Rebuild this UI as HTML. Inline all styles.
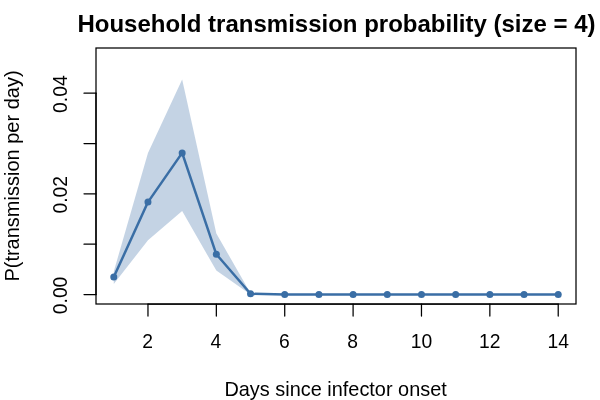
<!DOCTYPE html>
<html><head><meta charset="utf-8"><title>Household transmission probability</title>
<style>
html,body{margin:0;padding:0;background:#fff;}
svg{display:block;font-family:"Liberation Sans",Arial,Helvetica,sans-serif;}
</style></head>
<body>
<svg width="600" height="400" viewBox="0 0 600 400">
<rect width="600" height="400" fill="#fff"/>
<polygon points="113.78,271.50 147.97,153.00 182.16,79.50 216.34,233.50 250.53,293.20 284.72,294.30 318.91,294.30 353.10,294.30 387.28,294.30 421.47,294.30 455.66,294.30 489.85,294.30 524.04,294.30 558.22,294.30 558.22,294.60 524.04,294.60 489.85,294.60 455.66,294.60 421.47,294.60 387.28,294.60 353.10,294.60 318.91,294.60 284.72,294.60 250.53,294.50 216.34,270.60 182.16,211.10 147.97,240.30 113.78,284.00" fill="#3A6EA5" fill-opacity="0.3"/>
<polyline points="113.78,277.10 147.97,202.10 182.16,152.90 216.34,254.30 250.53,293.80 284.72,294.50 318.91,294.50 353.10,294.50 387.28,294.50 421.47,294.50 455.66,294.50 489.85,294.50 524.04,294.50 558.22,294.50" fill="none" stroke="#3A6EA5" stroke-width="2.5" stroke-linejoin="round" stroke-linecap="round"/>
<g fill="#3A6EA5"><circle cx="113.78" cy="277.10" r="3.5"/><circle cx="147.97" cy="202.10" r="3.5"/><circle cx="182.16" cy="152.90" r="3.5"/><circle cx="216.34" cy="254.30" r="3.5"/><circle cx="250.53" cy="293.80" r="3.5"/><circle cx="284.72" cy="294.50" r="3.5"/><circle cx="318.91" cy="294.50" r="3.5"/><circle cx="353.10" cy="294.50" r="3.5"/><circle cx="387.28" cy="294.50" r="3.5"/><circle cx="421.47" cy="294.50" r="3.5"/><circle cx="455.66" cy="294.50" r="3.5"/><circle cx="489.85" cy="294.50" r="3.5"/><circle cx="524.04" cy="294.50" r="3.5"/><circle cx="558.22" cy="294.50" r="3.5"/></g>
<g stroke="#000" stroke-width="1.25" fill="none" stroke-linecap="round">
<rect x="96" y="48" width="480" height="256"/>
<line x1="147.97" y1="304" x2="558.22" y2="304"/>
<line x1="147.97" y1="304" x2="147.97" y2="316"/><line x1="216.34" y1="304" x2="216.34" y2="316"/><line x1="284.72" y1="304" x2="284.72" y2="316"/><line x1="353.10" y1="304" x2="353.10" y2="316"/><line x1="421.47" y1="304" x2="421.47" y2="316"/><line x1="489.85" y1="304" x2="489.85" y2="316"/><line x1="558.22" y1="304" x2="558.22" y2="316"/>
<line x1="96" y1="294.52" x2="96" y2="93.20"/>
<line x1="96" y1="294.52" x2="84" y2="294.52"/><line x1="96" y1="244.19" x2="84" y2="244.19"/><line x1="96" y1="193.86" x2="84" y2="193.86"/><line x1="96" y1="143.53" x2="84" y2="143.53"/><line x1="96" y1="93.20" x2="84" y2="93.20"/>
</g>
<g font-size="20" fill="#000">
<text transform="translate(147.57,347.9) scale(0.965,1.03)" text-anchor="middle">2</text><text transform="translate(215.94,347.9) scale(0.965,1.03)" text-anchor="middle">4</text><text transform="translate(284.32,347.9) scale(0.965,1.03)" text-anchor="middle">6</text><text transform="translate(352.70,347.9) scale(0.965,1.03)" text-anchor="middle">8</text><text transform="translate(421.47,347.9) scale(0.965,1.03)" text-anchor="middle">10</text><text transform="translate(489.85,347.9) scale(0.965,1.03)" text-anchor="middle">12</text><text transform="translate(558.22,347.9) scale(0.965,1.03)" text-anchor="middle">14</text>
<text transform="translate(66.8,295.42) rotate(-90) scale(0.965,1.03)" text-anchor="middle">0.00</text><text transform="translate(66.8,194.76) rotate(-90) scale(0.965,1.03)" text-anchor="middle">0.02</text><text transform="translate(66.8,94.10) rotate(-90) scale(0.965,1.03)" text-anchor="middle">0.04</text>
<text transform="translate(335.6,396) scale(0.995,1)" text-anchor="middle">Days since infector onset</text>
<text transform="translate(18.6,176) rotate(-90)" text-anchor="middle">P(transmission per day)</text>
</g>
<text x="336.5" y="32" text-anchor="middle" font-size="24" font-weight="bold" fill="#000">Household transmission probability (size = 4)</text>
</svg>
</body></html>
